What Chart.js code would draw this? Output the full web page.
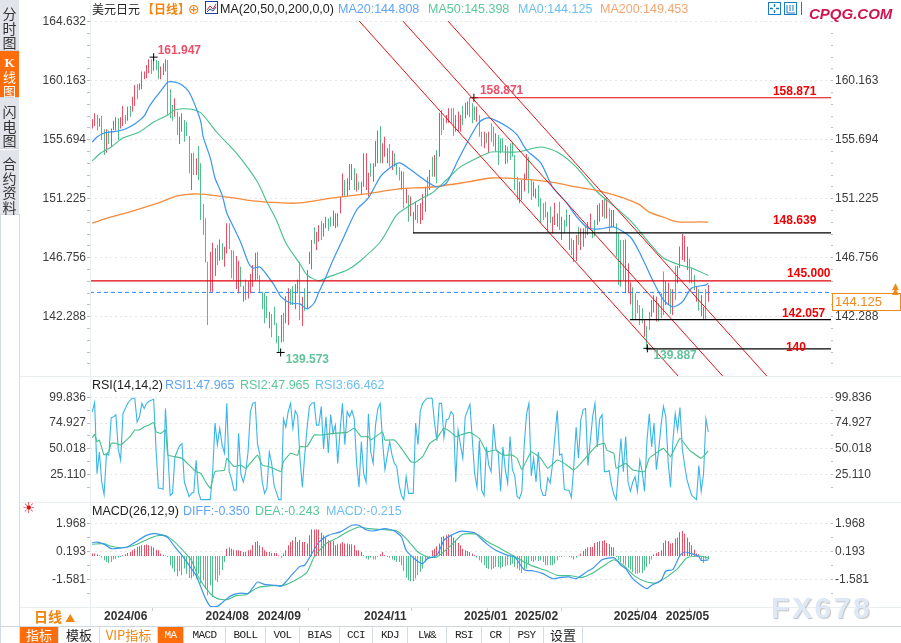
<!DOCTYPE html>
<html><head><meta charset="utf-8">
<script src="https://cdn.jsdelivr.net/npm/chart.js@4"></script>
<style>
html,body{margin:0;padding:0;background:#fff;overflow:hidden}
body{width:901px;height:643px;position:relative;font-family:"Liberation Sans",Arial,sans-serif}
canvas{position:absolute;left:0}
.t{position:absolute;white-space:nowrap;font-size:12.5px;line-height:15px}
.cjk{font-family:"Noto Sans CJK SC",sans-serif}
.side{position:absolute;left:0;width:19px;background:#e2e4ec;border-bottom:1px solid #cfd3dc;text-align:center;font:14px/14.5px "Noto Sans CJK SC",sans-serif;color:#333}
.rule{position:absolute;background:#e9eef1}
.tab{position:absolute;top:627px;height:16px;border-right:1px solid #d5dbe3;text-align:center;font:11px/16px "Liberation Mono",monospace;letter-spacing:-.6px;color:#222;box-sizing:border-box}
.tab.cjk{font:13px/15px "Noto Sans CJK SC",sans-serif;letter-spacing:0}
.on{background:#ff6c0a;color:#fff}
</style></head><body>
<canvas id="mainC" width="901" height="368" style="top:8px;width:901px;height:368px"></canvas>
<canvas id="rsiC" width="901" height="124" style="top:378px;width:901px;height:124px"></canvas>
<canvas id="macdC" width="901" height="123" style="top:503px;width:901px;height:123px"></canvas>

<div class="rule" style="left:20px;top:376px;width:881px;height:1px"></div>
<div class="rule" style="left:20px;top:502px;width:881px;height:1px"></div>
<div class="rule" style="left:20px;top:607px;width:881px;height:1px"></div>
<div class="rule" style="left:90px;top:0;width:1px;height:626px"></div>
<div class="rule" style="left:0;top:626px;width:901px;height:1px;background:#cfd6e0"></div>
<div class="rule" style="left:19px;top:214px;width:1px;height:429px;background:#d5dbe3"></div>
<div class="rule" style="left:0;top:214px;width:1px;height:429px;background:#d5dbe3"></div>

<div class="side" style="top:0;padding-top:6px;height:44px">分<br>时<br>图</div>
<div class="side on" style="top:51px;height:42px;padding-top:4px;background:#ff6c0a;color:#fff;font-size:13px;line-height:14px"><b style="font-family:'Liberation Serif'">K</b><br>线<br>图</div>
<div class="side" style="top:98px;height:44px;padding-top:6px">闪<br>电<br>图</div>
<div class="side" style="top:150px;height:58px;padding-top:6px">合<br>约<br>资<br>料</div>

<div class="t cjk" style="left:92px;top:1px;font-size:12px;color:#222">美元日元</div>
<div class="t cjk" style="left:142px;top:1px;font-size:12px;color:#f0850f;font-weight:bold">【日线】</div>
<div class="t" style="left:188px;top:2px;color:#f0850f;font-size:14px;font-family:'DejaVu Sans'">⊕</div>
<svg style="position:absolute;left:205px;top:1px" width="13" height="13"><rect x=".5" y=".5" width="12" height="12" fill="#fff" stroke="#1b3f9c"/><polyline points="2,9 5,5 8,8 11,3" fill="none" stroke="#d02030"/><polyline points="2,11 5,8 8,10 11,6" fill="none" stroke="#1b3f9c"/></svg>
<div class="t" style="left:220px;top:2px;color:#222">MA(20,50,0,200,0,0)</div>
<div class="t" style="left:338px;top:2px;color:#5fa5f5">MA20:144.808</div>
<div class="t" style="left:428px;top:2px;color:#5cc79a">MA50:145.398</div>
<div class="t" style="left:518px;top:2px;color:#6cc0f0">MA0:144.125</div>
<div class="t" style="left:600px;top:2px;color:#f5a56e">MA200:149.453</div>
<svg style="position:absolute;left:768px;top:2px" width="34" height="13"><rect x=".5" y=".5" width="12" height="12" fill="#fff" stroke="#1a7cc4"/><path d="M6.5 2v3M6.5 8v3M2 6.5h3M8 6.5h3" stroke="#1a7cc4" stroke-width="1.4"/><rect x="16.5" y=".5" width="12" height="12" fill="#fff" stroke="#1a7cc4"/><path d="M19 3v8h8M22 3v6M25 3v6" stroke="#1a7cc4" fill="none"/><path d="M33.5 0v13" stroke="#1a7cc4"/></svg>
<div class="t" style="left:809px;top:5px;font:italic bold 15px/18px 'Liberation Sans';color:#cf1650">CPQG.COM</div>

<div class="t" style="left:92px;top:378px;color:#222">RSI(14,14,2)</div>
<div class="t" style="left:165px;top:378px;color:#5fa5f5">RSI1:47.965</div>
<div class="t" style="left:240px;top:378px;color:#5cc79a">RSI2:47.965</div>
<div class="t" style="left:315px;top:378px;color:#6cc0f0">RSI3:66.462</div>

<div class="t" style="left:22px;top:501px;color:#e01010;font:15px/15px 'DejaVu Sans'">☀</div>
<div class="t" style="left:92px;top:504px;color:#222">MACD(26,12,9)</div>
<div class="t" style="left:183px;top:504px;color:#5fa5f5">DIFF:-0.350</div>
<div class="t" style="left:255px;top:504px;color:#5cc79a">DEA:-0.243</div>
<div class="t" style="left:326px;top:504px;color:#6cc0f0">MACD:-0.215</div>

<div class="t" style="left:832px;top:293px;width:65px;height:16px;border:1px solid #f08a1c;color:#f08a1c;font-size:13px;line-height:16px;padding-left:2px;box-sizing:content-box">144.125</div>
<div class="t" style="left:892px;top:284px;color:#f08a1c;font:9px/5px 'DejaVu Sans'">▲<br>▲</div>

<div class="t cjk" style="left:34px;top:607px;font-size:14px;line-height:19px;font-weight:bold;color:#f0850f">日线 <span style="font-size:10px">▲</span></div>

<div class="tab cjk on" style="left:20px;width:39px">指标</div>
<div class="tab cjk" style="left:59px;width:41px">模板</div>
<div class="tab cjk" style="left:100px;width:58px;color:#f0850f">VIP指标</div>
<div class="tab on" style="left:158px;width:26px">MA</div>
<div class="tab" style="left:184px;width:42px">MACD</div>
<div class="tab" style="left:226px;width:40px">BOLL</div>
<div class="tab" style="left:266px;width:34px">VOL</div>
<div class="tab" style="left:300px;width:40px">BIAS</div>
<div class="tab" style="left:340px;width:33px">CCI</div>
<div class="tab" style="left:373px;width:35px">KDJ</div>
<div class="tab" style="left:408px;width:39px">LW&amp;</div>
<div class="tab" style="left:447px;width:35px">RSI</div>
<div class="tab" style="left:482px;width:28px">CR</div>
<div class="tab" style="left:510px;width:34px">PSY</div>
<div class="tab cjk" style="left:544px;width:39px">设置</div>

<div class="t" style="left:771px;top:590px;font:bold 30px/36px 'Liberation Sans';letter-spacing:2.6px;color:#dfe9f5;text-shadow:1px 1px 1px #c2c2c2">FX678</div>

<script>
// ---------- price candles (high / low / direction), one per trading day ----------
const highs = [157.24,157.69,157.56,157.31,157.49,156.48,156.48,156.38,156.55,157.13,
157.39,157.31,157.39,158.25,157.56,158.19,158.25,158.95,159.84,159.91,
159.96,160.85,160.85,161.35,161.78,161.78,161.95,161.73,161.65,161.23,
161.48,161.78,161.73,159.51,158.32,158.83,157.82,157.44,157.69,157.19,
157.06,155.97,154.66,154.71,154.28,155.22,153.9,150.82,149.74,146.45,
147.21,147.89,147.46,147.71,148.14,147.84,147.59,149.36,149.36,147.34,
147.29,146.88,146.53,146.07,144.61,145.11,144.94,145.52,146.2,147.13,
147.18,145.44,144.18,144.1,143.85,142.66,142.49,143.04,141.78,140.82,
142.41,142.59,143.85,144.43,144.36,144.61,144.76,145.11,146.45,143.8,
144.43,145.82,147.21,148.09,149.05,148.72,149.23,149.53,149.36,149.86,
149.73,149.86,150.32,150.12,150.12,151.38,153.14,152.64,152.77,153.85,
153.85,153.52,153.14,152.51,152.51,154.66,154.66,153.19,153.9,153.9,
155.62,156.38,156.73,155.42,155.92,155.04,155.37,154.86,154.66,153.9,
153.6,153.3,153.27,152.0,151.5,151.38,150.24,151.0,150.75,150.87,151.58,152.13,
152.89,153.4,154.41,154.53,154.91,157.74,157.94,157.31,157.56,158.07,
158.07,158.07,157.56,157.82,157.56,158.25,158.5,158.58,158.87,158.45,
158.2,158.2,157.56,156.3,156.3,156.18,156.3,156.93,156.68,156.18,
156.05,155.8,155.8,155.29,155.17,155.42,155.54,154.53,152.89,152.51,
152.64,153.14,154.61,154.41,152.64,152.51,152.0,152.26,151.25,150.87,151.0,
150.24,150.62,149.86,150.92,150.1,151.0,149.86,149.61,150.4,150.0,148.22,
148.09,148.47,149.1,148.98,148.98,149.1,149.48,150.11,148.85,149.61,
150.75,150.87,151.12,151.25,151.25,150.49,150.37,150.37,149.36,148.6,
148.09,148.09,148.14,146.33,144.9,144.51,144.05,143.55,143.17,142.92,
142.03,141.58,142.66,143.55,143.9,143.8,143.3,144.05,145.7,144.94,
144.86,144.4,144.36,146.12,146.12,147.6,148.55,148.4,147.59,146.7,
145.95,145.44,144.56,144.36,143.93,143.04,144.36,144.68];
const lows = [156.55,156.73,156.38,156.68,155.67,154.53,154.71,155.37,155.17,156.43,
156.38,155.67,156.55,156.73,156.88,157.13,157.44,157.82,158.25,158.75,
159.46,159.51,160.27,160.34,160.72,160.67,160.92,160.97,160.27,160.27,
160.59,160.85,157.56,157.31,157.13,157.44,156.05,155.37,156.30,155.54,
155.97,153.14,151.88,153.02,153.02,152.64,149.61,148.47,146.38,141.66,
144.18,144.18,145.37,146.2,146.53,146.58,146.07,147.08,147.39,145.19,
145.06,144.38,144.05,144.56,143.42,143.55,143.67,144.05,144.56,145.01,
145.11,144.05,142.84,141.78,142.16,141.4,140.72,141.66,140.27,139.57,
140.32,140.39,141.78,141.66,143.17,143.17,142.84,144.05,142.03,141.58,
142.74,142.92,146.27,145.87,147.79,147.34,147.97,148.09,148.35,148.98,
148.8,149.1,149.15,148.98,149.1,150.11,151.38,151.38,151.38,151.88,
152.64,151.88,151.76,151.88,151.5,152.13,151.88,151.38,152.89,152.51,
153.65,153.9,153.9,153.9,154.41,153.9,153.65,153.4,153.65,153.02,
152.6,151.9,150.49,150.87,149.48,149.9,148.6,149.61,149.36,149.3,149.61,150.24,
151.38,151.88,152.89,152.89,152.39,154.41,156.05,156.43,156.93,156.98,
156.93,155.97,156.3,156.3,156.3,156.8,157.31,157.56,157.39,156.93,
157.19,157.06,155.92,155.17,155.04,155.42,154.66,155.54,155.17,154.79,
153.78,154.66,154.79,153.85,153.9,154.15,154.41,151.88,151.13,150.87,
151.13,151.76,152.64,151.63,151.13,151.38,151.25,150.62,149.36,149.61,149.8,
148.72,149.36,148.6,149.23,149.1,148.85,148.09,148.6,149.1,147.34,146.96,
146.45,146.5,147.72,147.34,147.59,148.22,148.47,148.85,148.22,148.35,
149.23,149.48,149.86,149.73,149.73,148.72,149.05,149.05,146.83,144.68,
144.56,145.06,144.05,144.05,143.2,142.08,142.03,142.54,141.66,141.78,
140.77,139.81,141.28,142.28,142.6,141.91,141.91,142.16,142.41,143.17,
143.17,142.5,142.41,143.55,144.81,146.0,146.58,146.45,145.82,144.81,
144.81,144.3,143.42,142.74,142.33,142.03,142.08,143.42];
const candleDirs = ["r","r","g","r","g","g","r","g","r","r","r","g","r","r","g","r","g","r","r","g","r","r","r","r","r","g","r","g","g","r","r","r","g","g","g","r","g","r","r","g","g","g","r","g","r","g","g","g","g","g","r","r","r","g","r","g","r","r","g","g","g","r","r","g","r","g","r","r","r","r","g","g","g","g","g","r","g","g","g","g","r","g","r","r","g","g","r","r","g","r","g","r","r","r","g","r","r","g","r","r","g","g","r","r","r","r","r","g","r","r","r","g","r","g","r","r","r","r","g","r","r","r","g","r","r","r","g","r","g","g","g","r","g","r","g","r","r","r","g","r","r","r","g","r","g","r","g","r","g","g","r","r","g","g","r","r","r","g","r","r","g","g","g","r","g","g","r","g","r","g","g","r","g","g","g","r","g","g","g","g","g","r","r","r","r","g","g","r","r","g","g","g","g","r","g","r","r","r","g","r","g","g","r","g","r","r","g","r","r","g","r","r","g","g","r","r","r","g","r","g","r","r","g","g","g","g","r","r","r","g","g","g","g","g","r","g","g","r","r","r","g","g","g","r","r","g","r","g","r","r","r","r","r","g","g","g","r","g","r","r","g","r","r","g"];

// ---------- moving averages (day number, value) ----------
const ma20Days = [0,2,5,8,11,14,18,22,24,27,30,32,35,38,41,44,46,47,50,52,55,57,59,63,66,68,71,74,77,80,84,88,91,94,96,99,102,106,112,117,122,125,130,135,142,146,150,155,159,164,168,176,180,184,190,195,201,205,210,215,221,228,232,238,242,246,250,254,260,261];
const ma20Vals = [155.52,155.9,156.2,156.28,156.35,156.5,156.88,157.49,158.17,158.93,159.61,160.06,160.06,159.84,159.31,158.09,157.03,155.9,154.31,152.79,151.5,150.14,149.38,147.87,146.43,145.97,146.05,145.44,144.69,143.78,143.32,143.25,142.87,143.32,144.15,145.29,146.58,148.09,150.37,151.28,152.87,153.4,153.93,153.4,152.49,152.11,152.41,154.15,155.52,157.03,157.34,156.65,156.05,154.91,153.93,152.11,150.9,149.91,149.0,148.93,149.08,148.32,147.11,144.84,143.55,143.02,143.4,144.46,144.69,144.81];
const ma50Days = [0,3,8,13,20,26,32,35,41,46,53,61,70,74,78,82,88,91,96,99,108,113,122,129,135,140,144,150,156,164,169,180,190,197,205,214,223,229,236,242,249,254,261];
const ma50Vals = [154.08,154.61,155.14,155.82,156.28,157.03,157.57,157.94,158.02,157.72,156.2,154.69,152.49,150.97,149.61,147.87,146.28,145.44,144.99,145.22,145.82,146.43,147.94,149.99,150.75,151.28,151.66,152.64,153.63,154.38,154.76,154.76,155.14,154.76,153.63,151.73,150.37,149.38,147.87,146.73,146.2,145.97,145.4];
const ma200Days = [0,8,17,29,36,43,50,60,68,80,88,102,116,130,144,159,169,181,194,205,215,225,232,236,243,248,258,261];
const ma200Vals = [149.38,149.84,150.29,150.97,151.43,151.58,151.5,151.28,151.05,150.9,150.9,151.28,151.58,151.96,152.11,152.49,152.79,152.72,152.49,152.11,151.8,151.28,150.75,150.21,149.76,149.46,149.46,149.45];

// ---------- drawn levels and trend channels ----------
const levelValues = [158.871,148.639,145.0,142.057,139.85];
const levelStarts = [161.7,135.9,-1,227.8,234.7];
const levelColors = ["#e0000a","#000000","#e0000a","#000000","#000000"];
const levelTexts  = ["158.871","148.639","145.000","142.057","140"];
const levelTextDays = [288.4,288.4,294.4,292.2,293.9];
const levelTextShift = [-3,-9,-4,-3,2];
const lastPrice = 144.125;
const channelStartDays = [113.1,131.6,150.7];
const channelEndDays = [248.2,267.1,285.8];
const channelTop = 164.68, channelBottom = 137.79;
const extremeDays = [26,79.8,161.7,235.2];
const extremeVals = [161.947,139.573,158.871,139.887];
const extremeTexts = ["161.947","139.573","158.871","139.887"];
const extremeColors = ["#ea5068","#62c29a","#ea5068","#62c29a"];
const extremeDx = [4,5,6,6];
const extremeDy = [-3,11,-4,11];

// ---------- RSI ----------
const rsi3 = [86,95,26,47,18,6,45,44,80,81,83,50,39,84,89,94,97,99,99,76,81,94,89,94,96,97,98,50,12,12,11,89,47,5,7,42,48,53,55,18,11,4,7,8,39,8,1,1,1,1,1,27,75,54,70,54,46,94,28,21,10,10,65,25,18,28,47,86,94,95,55,44,18,7,12,47,36,15,8,1,1,79,71,86,94,70,87,82,41,13,44,70,91,94,95,73,73,91,50,81,46,83,65,73,36,68,94,54,86,81,87,79,36,13,57,26,18,84,47,36,73,89,94,57,30,44,57,44,36,33,15,5,1,23,7,7,7,75,54,87,94,97,99,99,99,75,58,94,94,61,78,79,86,83,18,68,54,41,81,87,93,60,26,13,58,10,5,52,34,28,74,50,46,9,52,30,17,62,30,24,4,2,9,53,84,94,24,41,18,47,12,5,5,22,17,35,62,87,44,45,11,10,10,3,33,71,41,78,88,89,34,57,81,94,52,79,83,28,28,29,15,6,1,31,60,28,62,18,9,18,23,9,39,28,9,57,84,52,75,30,49,73,91,81,37,13,57,84,68,90,50,34,20,12,5,3,1,34,9,26,79,66.46];
const rsi2Days = [0,1,2,3,5,7,8,10,12,16,18,20,22,24,26,27,29,31,32,35,38,41,44,46,48,50,52,56,57,60,63,65,70,72,75,80,81,84,87,88,91,94,97,102,108,111,114,117,118,123,124,128,131,135,137,140,143,146,149,152,154,156,160,164,167,171,174,178,180,182,186,190,193,197,200,204,207,210,214,217,218,221,222,226,229,234,236,242,245,249,253,258,261];
const rsi2Vals = [60.8,64,57,58.6,44,47.3,55.4,55.4,53.7,61.8,68.2,68.2,71.5,73.1,75.6,66.6,65,68.2,44,42.5,40.9,34.4,28,26.4,18.3,11.9,28,29.6,40.9,32.8,34.4,31.2,44,34.4,32.8,28,37.6,45.7,44,52.1,52.1,63.4,63.4,65,66,69.9,61.8,61.8,58.6,66.6,58.6,58.6,50.5,37.6,37,42.5,55.4,60.2,69.9,66,61.8,63.4,66,60.2,47.3,48.9,44,44,40.9,30.2,47.3,40.9,31.2,39.3,36,29.6,36,44,53.7,55.4,48.9,45.7,31.2,36,29.6,28,40.9,50.5,42.5,60.2,48.9,40.9,47.97];
const rsiTicks = [99.836,74.927,50.018,25.11];

// ---------- MACD ----------
const macdHist = [.15,.15,.11,.04,-.11,-.27,-.38,-.44,-.38,-.23,-.19,-.11,-.06,.04,.11,.19,.25,.36,.46,.57,.61,.68,.7,.72,.68,.61,.53,.4,.36,.15,.08,.02,-.06,-.59,-.8,-1.01,-1.29,-.95,-1.22,-.8,-1.12,-1.39,-1.43,-1.29,-1.43,-1.12,-1.75,-1.54,-2.07,-2.49,-1.86,-2.59,-1.54,-1.65,-1.22,-.91,-.38,.46,.53,.46,.4,.36,.36,.32,.25,.25,.36,.4,.68,.89,.95,.68,.57,.36,.25,.25,.19,.19,.19,.04,-.11,.15,.36,.68,.89,.99,1.2,.89,1.03,.89,.89,.78,1.31,1.67,1.67,1.67,1.67,1.46,1.31,1.16,.99,.95,.95,.68,.74,.78,.89,.78,.78,.74,.74,.68,.36,.36,.25,.04,-.17,-.23,-.11,-.23,-.23,-.06,.11,.25,.04,-.06,-.11,-.23,-.27,-.38,-.38,-.59,-.95,-1.37,-1.54,-1.6,-1.6,-1.43,-1.22,-1.01,-.8,-.38,-.17,-.06,.36,.46,.61,.78,1.2,1.24,1.31,1.35,1.31,1.16,.99,.82,.68,.46,.36,.32,.25,.15,.04,-.11,-.27,-.42,-.59,-.76,-.82,-.86,-.8,-.7,-.7,-.8,-.7,-.63,-.59,-.59,-.49,-.7,-.8,-.91,-1.08,-.86,-.8,-.49,-.32,-.38,-.27,-.32,-.27,-.38,-.59,-.59,-.59,-.59,-.49,-.27,-.06,-.06,-.02,-.02,-.06,-.11,-.23,-.11,.02,.15,.32,.46,.55,.57,.57,.82,.89,.93,.95,.99,.82,.74,.57,.53,-.06,-.27,-.38,-.49,-.59,-.74,-.86,-1.03,-1.12,-1.12,-1.08,-1.08,-.91,-.7,-.49,-.23,.11,.19,.25,.36,.82,.99,.95,.78,.82,1.1,1.16,1.5,1.58,1.41,1.16,.89,.68,.4,.15,.11,-.23,-.44,-.17,-.215];
const histBase = -0.1;
const diffDays = [0,2,5,8,12,15,19,23,26,29,32,35,38,41,44,46,48,50,53,57,60,63,66,68,70,73,78,80,82,85,88,90,93,96,100,105,110,113,116,119,124,128,131,133,137,140,142,146,149,152,156,162,164,167,171,176,179,183,187,191,195,198,202,205,210,212,216,221,224,226,229,233,235,237,241,243,246,249,251,254,257,258,261];
const diffVals = [.74,.78,.64,.36,.4,.47,.85,1.2,1.31,1.25,1.06,.47,-.06,-.69,-1.33,-2.07,-2.8,-3.29,-3.29,-2.8,-2.53,-2.45,-2.49,-2.11,-1.75,-1.9,-1.96,-2.02,-1.75,-1.22,-.76,-.69,.04,.78,1.2,1.42,1.84,1.84,1.56,1.48,1.63,1.48,1.1,.26,-.34,-.59,-.27,-.06,.89,1.2,1.46,1.37,1.1,.68,.26,-.06,-.17,-.97,-1.05,-1.22,-1.54,-1.47,-1.43,-1.54,-1.05,-.9,-.34,-.21,-.69,-.9,-1.54,-2.02,-2.17,-1.96,-1.64,-1.05,-.97,-.06,.15,.04,-.12,-.38,-.35];
const deaDays = [0,5,8,12,15,19,23,27,31,35,39,42,45,50,53,57,61,65,70,76,81,86,91,94,99,104,108,113,117,124,129,133,138,142,146,152,157,163,167,173,178,183,187,192,197,203,207,212,218,221,225,230,235,239,243,248,252,258,261];
const deaVals = [.64,.68,.51,.42,.47,.64,.93,1.16,1.2,.78,.15,-.38,-1.43,-2.49,-2.8,-2.87,-2.61,-2.55,-2.11,-1.98,-1.96,-1.64,-1.12,-.17,.68,1.06,1.42,1.73,1.63,1.56,1.48,1.0,.15,-.17,-.17,.57,1.27,1.27,.85,.36,-.06,-.48,-.76,-1.01,-1.33,-1.35,-1.47,-1.18,-.59,-.34,-.69,-1.39,-1.75,-1.81,-1.47,-.9,-.21,-.12,-.24];
const macdTicks = [1.968,.193,-1.581];

// ---------- axes ----------
const priceTicks = [164.632,160.163,155.694,151.225,146.756,142.288];
const priceTicksRight = [160.163,155.694,151.225,146.756,142.288];
const monthDays = [4,47,69,114,156.5,178,220,242];
const monthNames = ["2024/06","2024/08","2024/09","2024/11","2025/01","2025/02","2025/04","2025/05"];

const RED="#ec4f63", GREEN="#4fbf8b", BLUE="#3a94f0", MAG="#45c08a", ORANGE="#f58b3c", CYAN="#3ab5e8";
const DAY_MIN=-0.97, DAY_MAX=313;
Chart.defaults.font.family='"Liberation Sans",Arial,sans-serif';
Chart.defaults.animation=false;

function pts(xs,ys){return xs.map((x,i)=>({x,y:ys[i]}));}
function lineDs(data,color,w,extra){return Object.assign({type:"line",data,borderColor:color,borderWidth:w,pointRadius:0,tension:0,order:1},extra||{});}

function yAxes(majors,subdiv,min,max,rightMajors){
  const step=(majors[0]-majors[1])/subdiv, vals=[];
  for(let v=majors[0];v>min+step*.6;v-=step)vals.push(+v.toFixed(3));
  const isMajor=v=>majors.some(m=>Math.abs(m-v)<step*.2);
  const common={min,max,afterBuildTicks(s){s.ticks=vals.map(v=>({value:v}));}};
  const label=list=>function(v){const m=list.find(m=>Math.abs(m-v)<step*.2);return m===undefined?"":m.toFixed(3);};
  const tk={autoSkip:false,color:"#3c3c3c",font:{size:12},padding:1,callback:label(majors)};
  return {
    y:Object.assign({},common,{position:"left",afterFit(s){s.width=90;s.paddingTop=0;s.paddingBottom=0;},
      grid:{color:c=>c.tick&&isMajor(c.tick.value)?"#e6e6e6":"rgba(0,0,0,0)",lineWidth:1,tickColor:"#b5bcc4",tickLength:3,drawTicks:true},
      border:{display:false,dash:[2,3]},ticks:tk}),
    y2:Object.assign({},common,{position:"right",afterFit(s){s.width=70;s.paddingTop=0;s.paddingBottom=0;},
      grid:{drawOnChartArea:false,tickColor:"#b5bcc4",tickLength:2},
      border:{display:false},ticks:Object.assign({},tk,{padding:2,callback:label(rightMajors||majors)})})
  };
}
function xAxis(show){
  return {type:"linear",min:DAY_MIN,max:DAY_MAX,offset:false,display:show,
    afterBuildTicks(s){s.ticks=monthDays.map(v=>({value:v}));},
    afterFit(s){s.paddingLeft=0;s.paddingRight=0;if(show)s.height=19;},
    grid:{drawOnChartArea:false,drawTicks:true,tickLength:4,tickColor:"#c8d0d8"},
    border:{display:false},
    ticks:{autoSkip:false,maxRotation:0,minRotation:0,padding:-2,labelOffset:24,color:"#333",font:{size:12,weight:"bold"},
      callback(v){const i=monthDays.indexOf(v);return i<0?"":monthNames[i];}}};
}
const baseOpts=(scales)=>({responsive:false,devicePixelRatio:1,animation:false,layout:{padding:0,autoPadding:false},
  plugins:{legend:{display:false},tooltip:{enabled:false}},scales});

// keep the one-pixel bars on whole device pixels, as the reference draws them
const snapPlugin={id:"snap",beforeDatasetDraw(c,args){
  if(args.meta.type!=="bar")return;
  args.meta.data.forEach(b=>{b.x=Math.floor(b.x)+.5;});
}};
// text beside levels and extreme points, placed through the scales
const notesPlugin={id:"notes",afterDatasetsDraw(c){
  const g=c.ctx,x=c.scales.x,y=c.scales.y;
  g.save();g.font='bold 12px "Liberation Sans"';g.textAlign="left";g.textBaseline="alphabetic";
  levelTexts.forEach((t,i)=>{g.fillStyle="#f00000";g.fillText(t,x.getPixelForValue(levelTextDays[i]),y.getPixelForValue(levelValues[i])+levelTextShift[i]);});
  extremeTexts.forEach((t,i)=>{g.fillStyle=extremeColors[i];g.fillText(t,x.getPixelForValue(extremeDays[i])+extremeDx[i],y.getPixelForValue(extremeVals[i])+extremeDy[i]);});
  g.restore();
}};

const dayIdx=highs.map((_,i)=>i);
const levelDs=levelValues.map((v,i)=>lineDs(pts([levelStarts[i],DAY_MAX],[v,v]),levelColors[i],1.2,{order:0}));
const channelDs=channelStartDays.map((d,i)=>lineDs(pts([d,channelEndDays[i]],[channelTop,channelBottom]),"#e81010",1,{order:0}));

new Chart(document.getElementById("mainC"),{type:"bar",
  data:{datasets:[
    {type:"bar",data:dayIdx.map(i=>({x:i,y:[lows[i],highs[i]]})),backgroundColor:candleDirs.map(d=>d==="r"?RED:GREEN),barThickness:1,inflateAmount:0,grouped:false,order:5,borderWidth:0,borderSkipped:false},
    lineDs(pts(ma200Days,ma200Vals),ORANGE,1.3,{tension:.25,order:3}),
    lineDs(pts(ma50Days,ma50Vals),MAG,1.1,{tension:.25,order:3}),
    lineDs(pts(ma20Days,ma20Vals),BLUE,1.2,{tension:.25,order:2}),
    lineDs(pts([DAY_MIN,DAY_MAX],[lastPrice,lastPrice]),"#2a86e8",1,{borderDash:[4,3],order:1}),
    ...levelDs,...channelDs,
    {type:"scatter",data:pts(extremeDays,extremeVals),pointStyle:"cross",pointRadius:4,borderColor:"#000",borderWidth:1,backgroundColor:"#000",showLine:false,order:0}
  ]},
  options:baseOpts(Object.assign({x:xAxis(false)},yAxes(priceTicks,5,137.79,165.67,priceTicksRight))),
  plugins:[snapPlugin,notesPlugin]});

new Chart(document.getElementById("rsiC"),{type:"line",
  data:{datasets:[
    lineDs(pts(dayIdx,rsi3),CYAN,1.1,{order:2}),
    lineDs(pts(rsi2Days,rsi2Vals),MAG,1.1,{order:1,tension:.1})
  ]},
  options:baseOpts(Object.assign({x:xAxis(false)},yAxes(rsiTicks,2,-1.3,118.5)))});

new Chart(document.getElementById("macdC"),{type:"bar",
  data:{datasets:[
    {type:"bar",data:dayIdx.map(i=>({x:i,y:[histBase,histBase+macdHist[i]]})),backgroundColor:macdHist.map(v=>v>=0?RED:GREEN),barThickness:1,inflateAmount:0,grouped:false,order:5,borderWidth:0,borderSkipped:false},
    lineDs(pts(deaDays,deaVals),MAG,1.1,{tension:.2,order:2}),
    lineDs(pts(diffDays,diffVals),BLUE,1.2,{tension:.2,order:1})
  ]},
  options:baseOpts(Object.assign({x:xAxis(true)},yAxes(macdTicks,2,-3.33,3.25))),
  plugins:[snapPlugin]});
</script>
</body></html>
